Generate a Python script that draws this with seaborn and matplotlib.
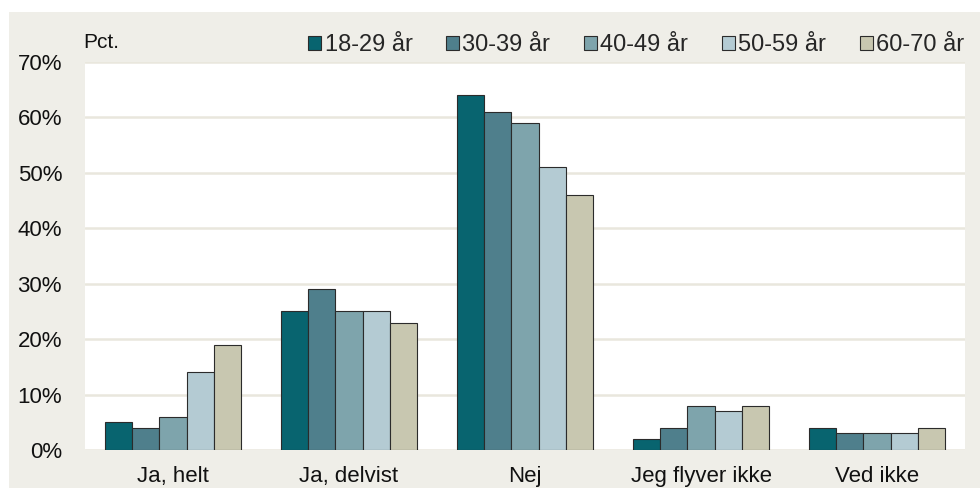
import matplotlib
matplotlib.use("Agg")
import matplotlib.pyplot as plt
import seaborn as sns
import pandas as pd
from matplotlib.patches import Rectangle
from matplotlib.ticker import PercentFormatter

categories = ["Ja, helt", "Ja, delvist", "Nej", "Jeg flyver ikke", "Ved ikke"]
ages = ["18-29 år", "30-39 år", "40-49 år", "50-59 år", "60-70 år"]
v_18_29 = [5, 25, 64, 2, 4]
v_30_39 = [4, 29, 61, 4, 3]
v_40_49 = [6, 25, 59, 8, 3]
v_50_59 = [14, 25, 51, 7, 3]
v_60_70 = [19, 23, 46, 8, 4]
colors = ["#08646f", "#4f7f8c", "#7ea4ac", "#b4cbd3", "#c8c7b0"]

series = [v_18_29, v_30_39, v_40_49, v_50_59, v_60_70]
rows = []
for age, vals in zip(ages, series):
    for c, v in zip(categories, vals):
        rows.append({"cat": c, "age": age, "val": v})
df = pd.DataFrame(rows)

sns.set_style("white")
plt.rcParams["font.family"] = ["Liberation Sans", "DejaVu Sans"]

fig = plt.figure(figsize=(9.8, 4.88), dpi=100)
fig.patch.set_facecolor("white")
bg = "#efeee8"
fig.add_artist(Rectangle((9 / 980, 0), 1 - 9 / 980, 1 - 12 / 488,
                         transform=fig.transFigure, facecolor=bg,
                         edgecolor="none", zorder=-10))

ax = fig.add_axes([85 / 980, 38 / 488, 880 / 980, 388 / 488])
ax.set_facecolor("white")
sns.barplot(data=df, x="cat", y="val", hue="age", palette=colors,
            saturation=1, width=0.77, edgecolor="#2b2b2b", linewidth=0.8,
            ax=ax, zorder=3)
ax.set_ylim(0, 70)
ax.set_yticks(range(0, 71, 10))
ax.yaxis.set_major_formatter(PercentFormatter(decimals=0))
ax.grid(axis="y", color="#e9e7dd", linewidth=1.8, zorder=0)
ax.set_axisbelow(True)
for s in ax.spines.values():
    s.set_visible(False)
ax.tick_params(axis="both", length=0, labelsize=16, colors="#111111")
ax.tick_params(axis="y", pad=16.5)
ax.tick_params(axis="x", pad=11.5)
ax.set_xlabel("")
ax.set_ylabel("")

ax.legend(loc="lower right", bbox_to_anchor=(1.006, 1.0), ncol=5,
          frameon=False, fontsize=17, handlelength=0.55, handleheight=0.55,
          handletextpad=0.15, columnspacing=1.42, borderaxespad=0.15,
          borderpad=0.1)
fig.text(83 / 980, 1 - 42 / 488, "Pct.", fontsize=15, va="center",
         ha="left", color="#111111")

fig.savefig("out.png", dpi=100, facecolor=fig.get_facecolor())
